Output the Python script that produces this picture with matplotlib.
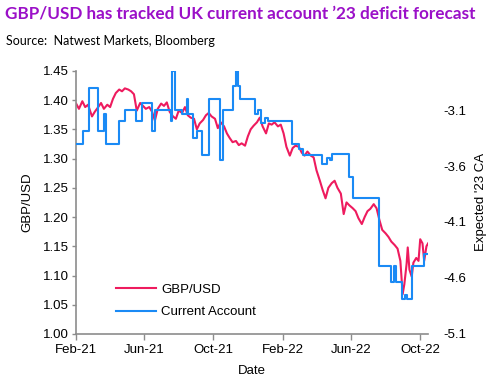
import matplotlib
matplotlib.use("Agg")
import matplotlib.pyplot as plt
import matplotlib.dates as mdates
import numpy as np

# GBP/USD (left axis)
fx_dates = [
    "2021-02-01", "2021-02-06", "2021-02-12", "2021-02-17", "2021-02-22", "2021-03-01",
    "2021-03-06", "2021-03-12", "2021-03-17", "2021-03-22", "2021-03-28", "2021-04-02",
    "2021-04-07", "2021-04-12", "2021-04-18", "2021-04-23", "2021-04-28", "2021-05-04",
    "2021-05-09", "2021-05-14", "2021-05-19", "2021-05-25", "2021-05-30", "2021-06-04",
    "2021-06-10", "2021-06-15", "2021-06-20", "2021-06-25", "2021-07-01", "2021-07-06",
    "2021-07-11", "2021-07-16", "2021-07-22", "2021-07-27", "2021-08-01", "2021-08-07",
    "2021-08-12", "2021-08-17", "2021-08-22", "2021-08-28", "2021-09-02", "2021-09-07",
    "2021-09-13", "2021-09-18", "2021-09-23", "2021-09-28", "2021-10-04", "2021-10-09",
    "2021-10-14", "2021-10-20", "2021-10-25", "2021-10-30", "2021-11-04", "2021-11-10",
    "2021-11-15", "2021-11-20", "2021-11-26", "2021-12-01", "2021-12-06", "2021-12-11",
    "2021-12-17", "2021-12-22", "2021-12-27", "2022-01-02", "2022-01-07", "2022-01-12",
    "2022-01-17", "2022-01-23", "2022-01-28", "2022-02-02", "2022-02-07", "2022-02-13",
    "2022-02-18", "2022-02-23", "2022-03-01", "2022-03-06", "2022-03-11", "2022-03-16",
    "2022-03-22", "2022-03-27", "2022-04-01", "2022-04-07", "2022-04-12", "2022-04-17",
    "2022-04-22", "2022-04-28", "2022-05-03", "2022-05-08", "2022-05-14", "2022-05-19",
    "2022-05-24", "2022-05-29", "2022-06-04", "2022-06-09", "2022-06-14", "2022-06-20",
    "2022-06-25", "2022-06-30", "2022-07-05", "2022-07-11", "2022-07-16", "2022-07-21",
    "2022-07-26", "2022-08-01", "2022-08-06", "2022-08-11", "2022-08-17", "2022-08-22",
    "2022-08-27", "2022-08-31", "2022-09-03", "2022-09-07", "2022-09-09", "2022-09-12",
    "2022-09-16", "2022-09-19", "2022-09-24", "2022-09-28", "2022-10-01", "2022-10-05",
    "2022-10-08", "2022-10-12", "2022-10-15",
]
fx_values = [
    1.394, 1.385, 1.398, 1.388, 1.392, 1.372,
    1.380, 1.388, 1.395, 1.385, 1.392, 1.388,
    1.402, 1.412, 1.418, 1.415, 1.420, 1.418,
    1.415, 1.410, 1.382, 1.395, 1.390, 1.385,
    1.388, 1.380, 1.365, 1.385, 1.394, 1.390,
    1.396, 1.380, 1.372, 1.368, 1.382, 1.378,
    1.388, 1.374, 1.370, 1.368, 1.350, 1.360,
    1.366, 1.374, 1.378, 1.372, 1.368, 1.352,
    1.362, 1.355, 1.343, 1.335, 1.328, 1.330,
    1.323, 1.326, 1.322, 1.338, 1.350, 1.356,
    1.362, 1.370, 1.355, 1.343, 1.360, 1.358,
    1.362, 1.355, 1.358, 1.343, 1.320, 1.305,
    1.318, 1.322, 1.320, 1.310, 1.305, 1.312,
    1.305, 1.302, 1.280, 1.262, 1.246, 1.232,
    1.250, 1.258, 1.262, 1.250, 1.240, 1.205,
    1.225, 1.220, 1.215, 1.210, 1.198, 1.188,
    1.200, 1.210, 1.214, 1.222, 1.215, 1.195,
    1.178, 1.172, 1.166, 1.158, 1.152, 1.146,
    1.125, 1.068, 1.085, 1.120, 1.148, 1.110,
    1.098, 1.122, 1.130, 1.125, 1.162, 1.155,
    1.125, 1.150, 1.155,
]

# expected 2023 current account, % GDP (right axis)
ca_dates = [
    "2021-02-01", "2021-02-13", "2021-02-24", "2021-03-12", "2021-03-22", "2021-03-26",
    "2021-04-18", "2021-04-28", "2021-05-18", "2021-05-28", "2021-06-15", "2021-06-20",
    "2021-07-18", "2021-07-20", "2021-07-25", "2021-08-07", "2021-08-15", "2021-08-17",
    "2021-08-26", "2021-09-02", "2021-09-11", "2021-09-23", "2021-10-13", "2021-10-18",
    "2021-11-04", "2021-11-10", "2021-11-13", "2021-11-17", "2021-12-13", "2021-12-18",
    "2021-12-25", "2021-12-31", "2022-01-05", "2022-02-16", "2022-03-02", "2022-03-08",
    "2022-04-10", "2022-04-19", "2022-04-24", "2022-04-29", "2022-05-29", "2022-06-04",
    "2022-07-21", "2022-08-11", "2022-08-15", "2022-08-20", "2022-08-29", "2022-09-05",
    "2022-09-07", "2022-09-17", "2022-10-08", "2022-10-15",
]
ca_values = [
    -3.40, -3.29, -2.90, -3.29, -3.14, -3.40,
    -3.20, -3.10, -3.20, -3.04, -3.29, -3.10,
    -3.20, -2.75, -3.10, -3.14, -3.00, -3.14,
    -3.35, -3.29, -3.50, -3.00, -3.55, -3.10,
    -2.89, -2.75, -2.89, -3.00, -3.14, -3.10,
    -3.22, -3.17, -3.20, -3.40, -3.45, -3.50,
    -3.58, -3.53, -3.55, -3.49, -3.70, -3.89,
    -4.49, -4.64, -4.49, -4.64, -4.79, -4.75,
    -4.79, -4.49, -4.39, -4.39,
]

left_ticks = np.arange(1.00, 1.451, 0.05)
right_ticks = [-3.1, -3.6, -4.1, -4.6, -5.1]

red = "#EE1B5E"
blue = "#1A8AF5"
grey = "#8C8C8C"

plt.rcParams["font.family"] = ["Liberation Sans", "DejaVu Sans"]

fig = plt.figure(figsize=(4.91, 3.87), dpi=100)
ax = fig.add_axes([0.155, 0.137, 0.717, 0.68])
ax2 = ax.twinx()

fx_x = np.array(fx_dates, dtype="datetime64[D]")
ca_x = np.array(ca_dates, dtype="datetime64[D]")

l1, = ax.plot(fx_x, fx_values, color=red, lw=1.5, label="GBP/USD")
l2, = ax2.plot(ca_x, ca_values, color=blue, lw=1.5, drawstyle="steps-post",
               label="Current Account")

ax.set_xlim(np.datetime64("2021-02-01"), np.datetime64("2022-10-15"))
ax.set_ylim(1.00, 1.45)
ax2.set_ylim(-5.1, -2.75)

ax.set_yticks(left_ticks)
ax.set_yticklabels(["%.2f" % t for t in left_ticks])
ax2.set_yticks(right_ticks)
ax2.set_yticklabels(["%.1f" % t for t in right_ticks])

ax.xaxis.set_major_locator(mdates.MonthLocator(bymonth=[2, 6, 10]))
ax.xaxis.set_major_formatter(mdates.DateFormatter("%b-%y"))

for a in (ax, ax2):
    for s in a.spines.values():
        s.set_visible(False)
ax.spines["left"].set_visible(True)
ax.spines["bottom"].set_visible(True)
ax.spines["left"].set_color(grey)
ax.spines["bottom"].set_color(grey)
ax.spines["left"].set_linewidth(1.2)
ax.spines["bottom"].set_linewidth(1.2)

ax.tick_params(axis="y", length=3, width=1, color=grey, labelsize=9.5, pad=2)
ax.tick_params(axis="x", length=4, width=1, color=grey, labelsize=9.5, pad=3)
ax2.tick_params(axis="y", length=0, labelsize=9.5, pad=11)

ax.set_ylabel("GBP/USD", fontsize=9.5, labelpad=7)
ax.set_xlabel("Date", fontsize=9.5, labelpad=7)
ax2.set_ylabel("Expected '23 CA", fontsize=9.5, labelpad=6)

ax.legend([l1, l2], ["GBP/USD", "Current Account"], loc="lower left",
          bbox_to_anchor=(0.08, 0.015), frameon=False, fontsize=9.5,
          handlelength=3.0, handletextpad=0.4, labelspacing=0.75)

fig.text(0.01, 0.985, "GBP/USD has tracked UK current account \u201923 deficit forecast",
         fontsize=12.3, fontweight="bold", color="#9B10C8", family=["Lato", "DejaVu Sans"],
         ha="left", va="top")
fig.text(0.012, 0.894, "Source:  Natwest Markets, Bloomberg", fontsize=9,
         color="black", family=["Lato", "DejaVu Sans"], ha="left", va="center")

fig.savefig("out.png", dpi=100)
